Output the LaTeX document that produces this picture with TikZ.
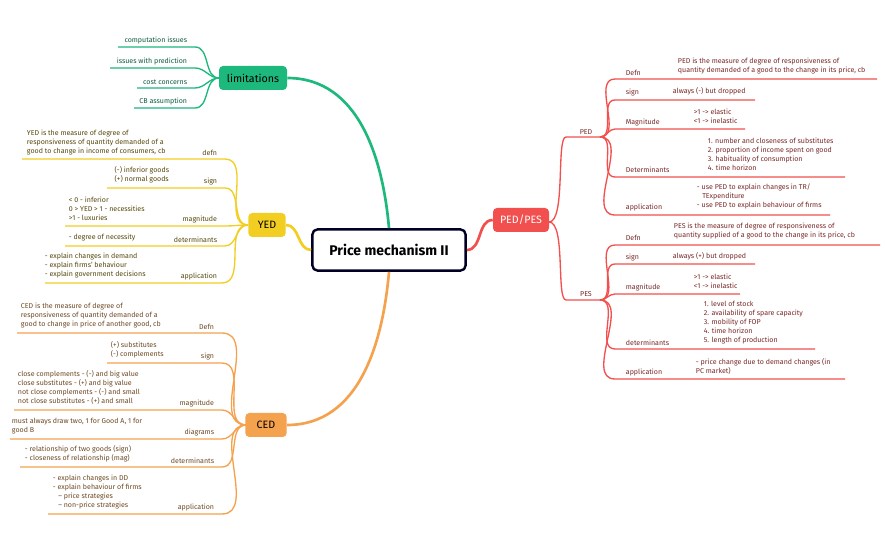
\documentclass[tikz,border=0pt]{standalone}
\usepackage{fontspec}
\setmainfont{Fira Sans}
\definecolor{gr}{HTML}{1DB87C}
\definecolor{ye}{HTML}{F2CE22}
\definecolor{og}{HTML}{F5A24F}
\definecolor{rd}{HTML}{F2504E}
\begin{document}
\begin{tikzpicture}[x=0.75pt,y=-0.75pt,
  txt/.style={font=\fontsize{5.3}{6.75}\selectfont,inner sep=0.5pt,align=left},
  cg/.style={text=gr!50!black}, lg/.style={draw=gr,line width=1pt},
  cy/.style={text=ye!35!black}, ly/.style={draw=ye,line width=1pt},
  co/.style={text=og!45!black}, lo/.style={draw=og,line width=1pt},
  cr/.style={text=rd!50!black}, lr/.style={draw=rd,line width=1pt},
  hub/.style={rounded corners=3pt,minimum height=18pt,font=\fontsize{8}{9}\selectfont,inner xsep=4pt}]
\useasboundingbox (0,0) rectangle (885,548);
\fill[white] (0,0) rectangle (885,548);
\newcommand{\lleaf}[7]{%
  \coordinate (#1a) at (#3,#2); \coordinate (#1b) at (#4,#2);
  \draw[#7] (#1a) -- (#1b) to[out=0,in=180] (#5);}
\newcommand{\rleaf}[7]{%
  \coordinate (#1a) at (#3,#2); \coordinate (#1b) at (#4,#2);
  \draw[#7] (#5) to[out=0,in=180] (#1a) -- (#1b);}
% central
\node[draw=black!85!blue,line width=1.8pt,rounded corners=4pt,minimum width=115pt,minimum height=31pt,font=\fontsize{10.5}{12}\selectfont\bfseries] (c) at (389,250) {Price mechanism II};
% hubs
\node[hub,fill=gr,minimum width=51pt] (lim) at (253,78) {limitations};
\node[hub,fill=ye,minimum width=28pt] (yed) at (267,225) {YED};
\node[hub,fill=og,minimum width=31pt] (ced) at (266,425) {CED};
\node[hub,fill=rd,text=white,minimum width=42pt] (pp) at (521,220) {PED/PES};
\draw[lg,line width=2pt] (lim.east) to[out=0,in=95] (c.north);
\draw[ly,line width=2pt] (yed.east) to[out=0,in=180] (c.west);
\draw[lo,line width=2pt] (ced.east) to[out=0,in=-95] (c.south);
\draw[lr,line width=2pt] (c.east) to[out=0,in=180] (pp.west);
% limitations
\coordinate (limw) at (219,78);
\lleaf{l1}{47}{118}{195}{limw}{}{lg}
\lleaf{l2}{68}{110}{195}{limw}{}{lg}
\lleaf{l3}{88}{137}{195}{limw}{}{lg}
\lleaf{l4}{108}{134}{195}{limw}{}{lg}
\node[txt,cg,anchor=south east] (l1t) at (188,45) {computation issues};
\node[txt,cg,anchor=south east] (l2t) at (188,66) {issues with prediction};
\node[txt,cg,anchor=south east] (l3t) at (188,86) {cost concerns};
\node[txt,cg,anchor=south east] (l4t) at (188,106) {CB assumption};
% YED
\coordinate (yedw) at (248,225);
\lleaf{y1}{159}{22}{225}{yedw}{}{ly}
\lleaf{y2}{188}{107}{225}{yedw}{}{ly}
\lleaf{y3}{226}{65}{225}{yedw}{}{ly}
\lleaf{y4}{246}{65}{225}{yedw}{}{ly}
\lleaf{y5}{283}{45}{222}{yedw}{}{ly}
\node[txt,cy,anchor=south east] (y1l) at (218,157) {defn};
\node[txt,cy,anchor=south west] (y1t) at (26,156) {YED is the measure of degree of\\responsiveness of quantity demanded of a\\good to change in income of consumers, cb};
\node[txt,cy,anchor=south east] (y2l) at (218,186) {sign};
\node[txt,cy,anchor=south east] (y2t) at (170,184) {(-) inferior goods\\(+) normal goods};
\node[txt,cy,anchor=south east] (y3l) at (218,224) {magnitude};
\node[txt,cy,anchor=south west] (y3t) at (68,222) {< 0 - inferior\\0 > YED > 1 - necessities\\>1 - luxuries};
\node[txt,cy,anchor=south east] (y4l) at (218,244) {determinants};
\node[txt,cy,anchor=south west] (y4t) at (68,242) {- degree of necessity};
\node[txt,cy,anchor=south east] (y5l) at (218,281) {application};
\node[txt,cy,anchor=south west] (y5t) at (44,279) {- explain changes in demand\\- explain firms' behaviour\\- explain government decisions};
% CED
\coordinate (cedw) at (246,425);
\lleaf{c1}{333}{17}{222}{cedw}{}{lo}
\lleaf{c2}{363}{107}{222}{cedw}{}{lo}
\lleaf{c3}{410}{14}{222}{cedw}{}{lo}
\lleaf{c4}{439}{10}{222}{cedw}{}{lo}
\lleaf{c5}{467}{20}{222}{cedw}{}{lo}
\lleaf{c6}{514}{48}{222}{cedw}{}{lo}
\node[txt,co,anchor=south east] (c1l) at (215,331) {Defn};
\node[txt,co,anchor=south west] (c1t) at (20,329) {CED is the measure of degree of\\responsiveness of quantity demanded of a\\good to change in price of another good, cb};
\node[txt,co,anchor=south east] (c2l) at (215,361) {sign};
\node[txt,co,anchor=south west] (c2t) at (110,359) {(+) substitutes\\(-) complements};
\node[txt,co,anchor=south east] (c3l) at (215,408) {magnitude};
\node[txt,co,anchor=south west] (c3t) at (17,405) {close complements - (-) and big value\\close substitutes - (+) and big value\\not close complements - (-) and small\\not close substitutes - (+) and small};
\node[txt,co,anchor=south east] (c4l) at (215,437) {diagrams};
\node[txt,co,anchor=south west] (c4t) at (11,435) {must always draw two, 1 for Good A, 1 for\\good B};
\node[txt,co,anchor=south east] (c5l) at (215,465) {determinants};
\node[txt,co,anchor=south west] (c5t) at (24,463) {- relationship of two goods (sign)\\- closeness of relationship (mag)};
\node[txt,co,anchor=south east] (c6l) at (215,512) {application};
\node[txt,co,anchor=south west] (c6t) at (52,510) {- explain changes in DD\\- explain behaviour of firms\\\hspace*{4pt}-- price strategies\\\hspace*{4pt}-- non-price strategies};
% PED / PES
\coordinate (ppe) at (549,222);
\coordinate (peda) at (566,137); \coordinate (pedb) at (600,137);
\coordinate (pesa) at (566,300); \coordinate (pesb) at (600,300);
\draw[lr] (ppe) .. controls (566,222) and (556,137) .. (peda) -- (pedb);
\draw[lr] (ppe) .. controls (566,222) and (556,300) .. (pesa) -- (pesb);
\node[txt,cr,anchor=south] (pedl) at (586,135) {PED};
\node[txt,cr,anchor=south] (pesl) at (586,298) {PES};
\rleaf{p1}{79}{615}{877}{pedb}{}{lr}
\rleaf{p2}{100}{615}{755}{pedb}{}{lr}
\rleaf{p3}{129}{615}{745}{pedb}{}{lr}
\rleaf{p4}{177}{615}{845}{pedb}{}{lr}
\rleaf{p5}{215}{615}{830}{pedb}{}{lr}
\rleaf{s1}{245}{615}{880}{pesb}{}{lr}
\rleaf{s2}{264}{615}{755}{pesb}{}{lr}
\rleaf{s3}{294}{615}{740}{pesb}{}{lr}
\rleaf{s4}{349}{615}{815}{pesb}{}{lr}
\rleaf{s5}{379}{615}{845}{pesb}{}{lr}
\node[txt,cr,anchor=south west] (p1l) at (625,77) {Defn};
\node[txt,cr,anchor=south west] (p1t) at (677,75) {PED is the measure of degree of responsiveness of\\quantity demanded of a good to the change in its price, cb};
\node[txt,cr,anchor=south west] (p2l) at (625,97) {sign};
\node[txt,cr,anchor=south west] (p2t) at (672,96) {always (-) but dropped};
\node[txt,cr,anchor=south west] (p3l) at (625,127) {Magnitude};
\node[txt,cr,anchor=south west] (p3t) at (693,125) {>1 -> elastic\\<1 -> inelastic};
\node[txt,cr,anchor=south west] (p4l) at (625,174) {Determinants};
\node[txt,cr,anchor=south west] (p4t) at (707,172) {1. number and closeness of substitutes\\2. proportion of income spent on good\\3. habituality of consumption\\4. time horizon};
\node[txt,cr,anchor=south west] (p5l) at (625,212) {application};
\node[txt,cr,anchor=south west] (p5t) at (696,210) {- use PED to explain changes in TR/\\\hspace*{4pt}TExpenditure\\- use PED to explain behaviour of firms};
\node[txt,cr,anchor=south west] (s1l) at (625,242) {Defn};
\node[txt,cr,anchor=south west] (s1t) at (673,240) {PES is the measure of degree of responsiveness of\\quantity supplied of a good to the change in its price, cb};
\node[txt,cr,anchor=south west] (s2l) at (625,262) {sign};
\node[txt,cr,anchor=south west] (s2t) at (672,261) {always (+) but dropped};
\node[txt,cr,anchor=south west] (s3l) at (625,292) {magnitude};
\node[txt,cr,anchor=south west] (s3t) at (693,290) {>1 -> elastic\\<1 -> inelastic};
\node[txt,cr,anchor=south west] (s4l) at (625,347) {determinants};
\node[txt,cr,anchor=south west] (s4t) at (703,345) {1. level of stock\\2. availability of spare capacity\\3. mobility of FOP\\4. time horizon\\5. length of production};
\node[txt,cr,anchor=south west] (s5l) at (625,377) {application};
\node[txt,cr,anchor=south west] (s5t) at (695,375) {- price change due to demand changes (in\\PC market)};
\end{tikzpicture}
\end{document}
